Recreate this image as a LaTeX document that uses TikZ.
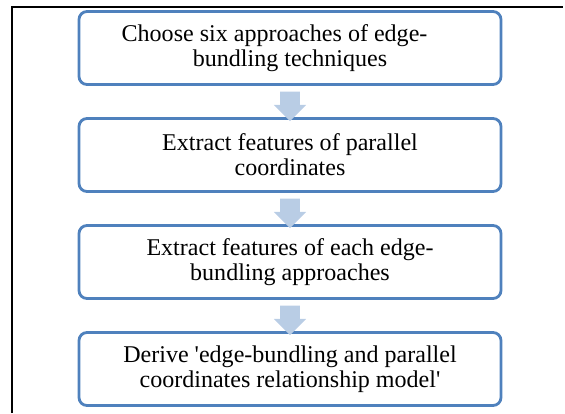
\documentclass[tikz,border=0pt]{standalone}
\usepackage{fontspec}
\setmainfont{Liberation Serif}
\usepackage{xcolor}
\usetikzlibrary{shapes.arrows, positioning}
\definecolor{boxblue}{RGB}{79,129,189}
\definecolor{arrowblue}{RGB}{185,205,229}

\begin{document}
\begin{tikzpicture}[node distance=2.675cm,on grid]
    \tikzstyle{stage}=[shape=rectangle,rounded corners=0.2cm,draw=boxblue,line width=2pt,minimum width=10.55cm,minimum height=1.825cm,align=center,font=\fontsize{17.1}{17.8}\selectfont]
    \tikzstyle{downarrow}=[single arrow,shape border rotate=270,fill=arrowblue,minimum height=0.675cm,single arrow head extend=0.16cm,inner sep=0.2375cm]

    \useasboundingbox (0,0) rectangle (14.125,-10.325);
    \draw[line width=1.6pt] (0.3,-10.325) -- (0.3,-0.175) -- (14.08,-0.175);

    \node[stage] (S1) at (7.25,-1.2) {Choose six approaches of edge-\kern22pt\\bundling techniques};
    \node[stage, below of=S1] (S2) {Extract features of parallel\\coordinates};
    \node[stage, below of=S2] (S3) {Extract features of each edge-\\bundling approaches};
    \node[stage, below of=S3] (S4) {Derive \textquotesingle edge-bundling and parallel\\coordinates relationship model\textquotesingle};

    \path[draw=none]
    (S1) edge[draw=none] node[downarrow] {} (S2)
    (S2) edge[draw=none] node[downarrow] {} (S3)
    (S3) edge[draw=none] node[downarrow] {} (S4)
    ;
\end{tikzpicture}
\end{document}
